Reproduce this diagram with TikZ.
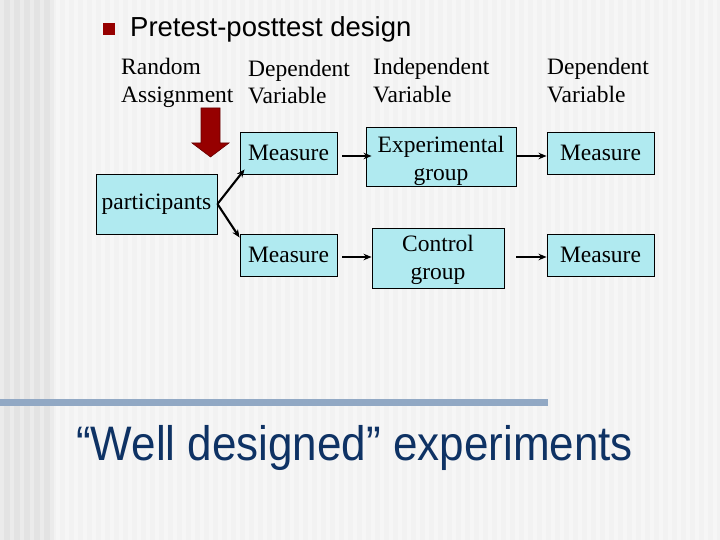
\documentclass[tikz,border=0pt]{standalone}
\usepackage{fontspec}
\setmainfont{Liberation Serif}
\newfontfamily\arialf{Liberation Sans}
\usetikzlibrary{arrows.meta,calc}
\definecolor{boxcyan}{RGB}{176,234,240}
\definecolor{darkred}{RGB}{150,0,0}
\definecolor{navy}{RGB}{14,50,100}
\definecolor{barblue}{RGB}{145,168,196}
\tikzset{
  px/.style={x=1pt,y=-1pt},
  box/.style={draw=black,line width=0.9pt,fill=boxcyan,inner sep=0pt,align=center,
    font=\fontsize{23.5}{29}\selectfont},
  hdr/.style={anchor=base west,inner sep=0pt,font=\fontsize{23.5}{28}\selectfont},
  conn/.style={draw=black,line width=2.1pt,-{Stealth[length=8pt,width=6.5pt]}},
}
\begin{document}
\begin{tikzpicture}[px]
% background
\fill[gray!10] (0,0) rectangle (720,540);
\fill[gray!22] (0,0) rectangle (52,540);
\foreach \x in {0,10,...,50} {\fill[gray!16] (\x,0) rectangle (\x+4,540);}
\foreach \x in {56,65,...,716} {\fill[gray!7] (\x,0) rectangle (\x+4,540);}
\useasboundingbox (0,0) rectangle (720,540);
% title
\fill[darkred] (103,23) rectangle (115,35);
\node[anchor=base west,inner sep=0pt,font=\arialf\fontsize{27.5}{30}\selectfont] (title) at (130,37) {Pretest-posttest design};
% headers
\node[hdr] (h1a) at (121,75) {Random};
\node[hdr] (h1b) at (121,103) {Assignment};
\node[hdr] (h2a) at (248,77) {Dependent};
\node[hdr] (h2b) at (248,104) {Variable};
\node[hdr] (h3a) at (373,75) {Independent};
\node[hdr] (h3b) at (373,103) {Variable};
\node[hdr] (h4a) at (547,75) {Dependent};
\node[hdr] (h4b) at (547,103) {Variable};
% red arrow
\draw[fill=darkred,draw=red!40!black,line width=0.6pt]
  (201,108) -- (220,108) -- (220,143) -- (229,143) -- (210.5,157) -- (192,143) -- (201,143) -- cycle;
% boxes
\node[box,minimum width=121pt,minimum height=60pt] (part) at (156.5,204) {participants};
\node[box,minimum width=97pt,minimum height=42pt] (m1) at (288.5,153) {Measure};
\node[box,minimum width=97pt,minimum height=42pt] (m2) at (288.5,255) {Measure};
\node[box,minimum width=150pt,minimum height=59pt] (exp) at (441,156.5) {\raisebox{-4pt}[\height][\depth]{\begin{tabular}{@{}c@{}}Experimental\\[-1pt]group\end{tabular}}};
\node[box,minimum width=132pt,minimum height=60pt] (ctl) at (438,258) {\raisebox{-2pt}[\height][\depth]{\begin{tabular}{@{}c@{}}Control\\[-1pt]group\end{tabular}}};
\node[box,minimum width=107pt,minimum height=42pt] (m3) at (600.5,153) {Measure};
\node[box,minimum width=107pt,minimum height=42pt] (m4) at (600.5,255) {Measure};
% connectors
\draw[conn] (part.east) -- ($(m1.south west)+(5,-5)$);
\draw[conn] (part.east) -- ($(m2.north west)+(0,4)$);
\draw[conn] ($(m1.east)+(5,3)$) -- ($(exp.west)+(6,-0.5)$);
\draw[conn] ($(exp.east)+(1,-0.5)$) -- ($(m3.west)+(0,3)$);
\draw[conn] ($(m2.east)+(5,2)$) -- ($(ctl.west)+(0,-1)$);
\draw[conn] ($(ctl.east)+(12,-1)$) -- ($(m4.west)+(0,2)$);
% bar and bottom text
\fill[barblue] (0,399) rectangle (548,406);
\node[anchor=base west,inner sep=0pt,text=navy,font=\arialf\fontsize{44}{48}\selectfont] (well) at (76,460)
  {\scalebox{1}[1.1]{“Well designed” experiments}};
\end{tikzpicture}
\end{document}
